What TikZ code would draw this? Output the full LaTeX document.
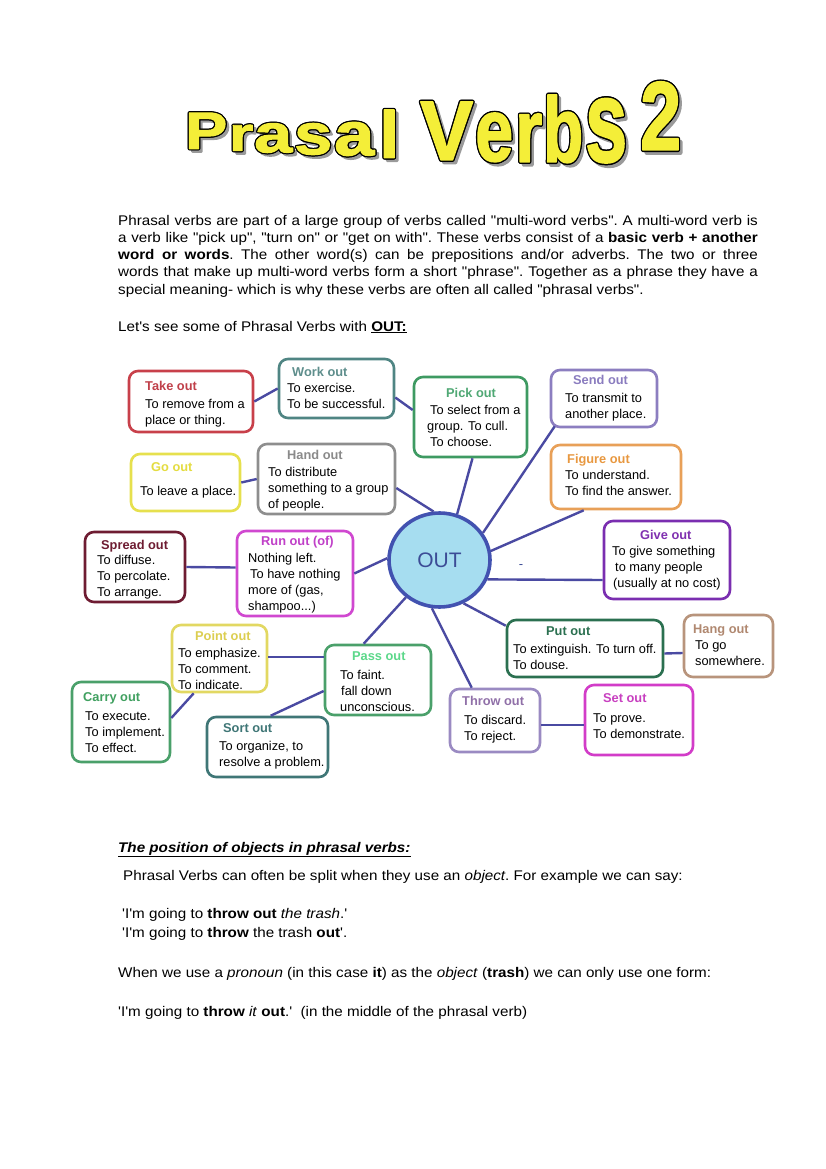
\documentclass[tikz,border=0pt]{standalone}
\usepackage{fontspec}
\setmainfont{Liberation Sans}
\usepackage{graphicx}
\usetikzlibrary{shapes.geometric,calc}
\definecolor{linkblue}{HTML}{4A4AA2}
\definecolor{cTake}{HTML}{C8404A}\definecolor{tTake}{HTML}{C0404A}
\definecolor{cWork}{HTML}{4F8583}\definecolor{tWork}{HTML}{5E8E8C}
\definecolor{cPick}{HTML}{3E9A62}\definecolor{tPick}{HTML}{4FA874}
\definecolor{cSend}{HTML}{8C7EC0}\definecolor{tSend}{HTML}{8A7CBF}
\definecolor{cFig}{HTML}{E8A058}\definecolor{tFig}{HTML}{E89840}
\definecolor{cGo}{HTML}{E6E04E}\definecolor{tGo}{HTML}{E4DC40}
\definecolor{cHand}{HTML}{8E8E8E}\definecolor{tHand}{HTML}{8A8A8A}
\definecolor{cSpread}{HTML}{6E1C32}\definecolor{tSpread}{HTML}{6E1C32}
\definecolor{cRun}{HTML}{D048D0}\definecolor{tRun}{HTML}{C040C8}
\definecolor{cGive}{HTML}{7A2EB0}\definecolor{tGive}{HTML}{8030B0}
\definecolor{cPoint}{HTML}{E2D862}\definecolor{tPoint}{HTML}{DCCE50}
\definecolor{cPass}{HTML}{4AA06A}\definecolor{tPass}{HTML}{5CD88A}
\definecolor{cCarry}{HTML}{4AA06A}\definecolor{tCarry}{HTML}{40A060}
\definecolor{cSort}{HTML}{3F7676}\definecolor{tSort}{HTML}{3F7676}
\definecolor{cPut}{HTML}{2B7050}\definecolor{tPut}{HTML}{2B7050}
\definecolor{cHang}{HTML}{B8947C}\definecolor{tHang}{HTML}{B08870}
\definecolor{cThrow}{HTML}{9A8AC2}\definecolor{tThrow}{HTML}{9070A8}
\definecolor{cSet}{HTML}{D23CC8}\definecolor{tSet}{HTML}{C840C0}
\definecolor{circFill}{HTML}{A6DDF0}
\definecolor{circBorder}{HTML}{4252B0}
\definecolor{circText}{HTML}{3C4C96}
\definecolor{tyellow}{HTML}{F4EE38}
\definecolor{tshadow}{HTML}{9A9A9A}
\newcommand\dq{\textquotedbl}
\newcommand\sq{\textquotesingle}
\newcommand\ttlfont{\fontsize{60}{60}\selectfont\bfseries}
\newcommand\wide[1]{\scalebox{1.086}[1]{#1}}
\newcommand\tletter[6]{%
  \node[inner sep=0pt,anchor=south west,text=tshadow] (#1s) at ({#3+3},{#6+3}) {\resizebox{\dimexpr#4pt-#3pt\relax}{\dimexpr#6pt-#5pt\relax}{\ttlfont\special{pdf:literal direct 2.4 w 1 j 2 Tr}#2\special{pdf:literal direct 0 Tr}}};
  \foreach \dx/\dy in {-1/0,1/0,0/-1,0/1,-0.7/-0.7,0.7/0.7,-0.7/0.7,0.7/-0.7}{%
    \node[inner sep=0pt,anchor=south west,text=black] at ({#3+(\dx)},{#6+(\dy)}) {\resizebox{\dimexpr#4pt-#3pt\relax}{\dimexpr#6pt-#5pt\relax}{\ttlfont\special{pdf:literal direct 1.6 w 1 j 2 Tr}#2\special{pdf:literal direct 0 Tr}}};}
  \node[inner sep=0pt,anchor=south west,text=tyellow] (#1) at (#3,#6) {\resizebox{\dimexpr#4pt-#3pt\relax}{\dimexpr#6pt-#5pt\relax}{\ttlfont\special{pdf:literal direct 1.1 w 1 j 2 Tr}#2\special{pdf:literal direct 0 Tr}}};
}
\newcommand\pvbox[6]{\node[bx=#2, minimum width={(#5)-(#3)}, minimum height={(#6)-(#4)}] (#1) at ({((#3)+(#5))/2},{((#4)+(#6))/2}) {};}
\tikzset{
  bx/.style={rectangle, draw=#1, line width=2.6pt, rounded corners=9pt, fill=white, inner sep=0pt},
  ttl/.style={text=#1, font=\fontsize{12.8}{16}\selectfont\bfseries, inner sep=0pt, anchor=base west},
  body/.style={font=\fontsize{12.8}{16}\selectfont, align=left, inner sep=0pt, anchor=north west},
  conn/.style={draw=linkblue, line width=2.4pt},
  para/.style={anchor=base west, inner sep=0pt, font=\fontsize{14}{17}\selectfont\frenchspacing},
}
\begin{document}
\begin{tikzpicture}[x=1pt,y=-1pt]
\useasboundingbox (0,0) rectangle (826,1169);
\fill[white] (0,0) rectangle (826,1169);

% ---- title
\tletter{l1}{P}{185}{227}{113}{149}
\tletter{l2}{r}{229}{253}{125}{151}
\tletter{l3}{a}{254}{292}{124}{153}
\tletter{l4}{s}{294}{332}{124}{155}
\tletter{l5}{a}{334}{374}{123}{156}
\tletter{l6}{l}{379}{399}{110}{158}
\tletter{l7}{V}{420}{473}{102}{160}
\tletter{l8}{e}{475}{513}{114}{162}
\tletter{l9}{r}{515}{542}{114}{162}
\tletter{l10}{b}{543}{583}{96}{163}
\tletter{l11}{s}{585}{627}{100}{163}
\tletter{l12}{2}{640}{681}{82}{150}

% ---- intro paragraph
\node[para] (p1) at (118,225) {\wide{\makebox[589pt][s]{Phrasal verbs are part of a large group of verbs called \dq{}multi-word verbs\dq{}. A multi-word verb is}}};
\node[para] (p2) at (118,242) {\wide{\makebox[589pt][s]{a verb like \dq{}pick up\dq{}, \dq{}turn on\dq{} or \dq{}get on with\dq{}. These verbs consist of a \textbf{basic verb + another}}}};
\node[para] (p3) at (118,259) {\wide{\makebox[589pt][s]{\textbf{word or words}. The other word(s) can be prepositions and/or adverbs. The two or three}}};
\node[para] (p4) at (118,276) {\wide{\makebox[589pt][s]{words that make up multi-word verbs form a short \dq{}phrase\dq{}. Together as a phrase they have a}}};
\node[para] (p5) at (118,294.5) {\wide{special meaning- which is why these verbs are often all called \dq{}phrasal verbs\dq{}.}};
\node[para] (p6) at (118,331) {\wide{Let\sq{}s see some of Phrasal Verbs with \textbf{\underline{OUT:}}}};

% ---- boxes
\pvbox{take}{cTake}{129}{371}{253}{432}
\pvbox{work}{cWork}{279}{359}{394}{418}
\pvbox{pick}{cPick}{414}{377}{527}{457}
\pvbox{send}{cSend}{551}{370}{657}{427}
\pvbox{figure}{cFig}{551}{445}{681}{509}
\pvbox{go}{cGo}{131}{454}{240}{511}
\pvbox{hand}{cHand}{258}{444}{395}{514}
\pvbox{spread}{cSpread}{85}{532}{185}{602}
\pvbox{run}{cRun}{237}{531}{353}{616}
\pvbox{give}{cGive}{604}{521}{730}{599}
\pvbox{point}{cPoint}{172}{625}{267}{692}
\pvbox{pass}{cPass}{325}{645}{431}{715}
\pvbox{carry}{cCarry}{72}{682}{170}{762}
\pvbox{sort}{cSort}{207}{717}{328}{777}
\pvbox{put}{cPut}{507}{620}{663}{677}
\pvbox{hang}{cHang}{684}{615}{773}{677}
\pvbox{throw}{cThrow}{450}{689}{540}{752}
\pvbox{set}{cSet}{585}{685}{693}{755}

\node[ellipse, draw=circBorder, line width=3.6pt, fill=circFill, minimum width=101pt, minimum height=94pt, inner sep=0pt, text=circText, font=\fontsize{21}{21}\selectfont] (out) at (439.5,560) {OUT};

% ---- connectors
\draw[conn] (take.east) -- (work.west);
\draw[conn] ([yshift=-9pt]work.east) -- ([yshift=7pt]pick.west);
\draw[conn] ([xshift=2pt]pick.south) -- (out.69);
\draw[conn] ([yshift=-9pt]hand.east) -- (out.97);
\draw[conn] ([xshift=5pt,yshift=2pt]send.south west) -- (out.32);
\draw[conn] ([xshift=34pt]figure.south west) -- (out.10);
\draw[conn] (go.east) -- (hand.west);
\draw[conn] (spread.east) -- ([yshift=6pt]run.west);
\draw[conn] (run.east) -- (out.178);
\draw[conn] (out.-22) -- ([yshift=-20pt]give.west);
\draw[conn] (out.-61) -- ([yshift=-7pt]put.north west);
\draw[conn] (out.-99) -- ([xshift=23pt]throw.north west);
\draw[conn] (out.-132) -- ([xshift=40pt]pass.north west);
\draw[conn] ([yshift=1.5pt]point.east) -- ([yshift=23pt]pass.west);
\draw[conn] ([yshift=-11pt]pass.west) -- ([xshift=65pt]sort.north west);
\draw[conn] ([xshift=23pt]point.south west) -- ([yshift=4pt]carry.east);
\draw[conn] ([yshift=-5pt]put.east) -- ([yshift=-7pt]hang.west);
\draw[conn] ([yshift=-4.5pt]throw.east) -- ([yshift=-5pt]set.west);

\node[inner sep=0pt, text=circText, font=\fontsize{13}{13}\selectfont] (dash) at (521,567) {-};

% ---- box texts
\node[ttl=tTake] (takeT) at (145,390.5) {Take out};
\node[body] (takeB) at (145,399) {To remove from a\\place or thing.};
\node[ttl=tWork] (workT) at (292,376.5) {Work out};
\node[body] (workB) at (287,383) {To exercise.\\To be successful.};
\node[ttl=tPick] (pickT) at (446,397.5) {Pick out};
\node[body] (pickB) at (427,405) {\hspace{3pt}To select from a\\group. To cull.\\\hspace{3pt}To choose.};
\node[ttl=tSend] (sendT) at (573,384.5) {Send out};
\node[body] (sendB) at (565,393) {To transmit to\\another place.};
\node[ttl=tFig] (figT) at (567,463.5) {Figure out};
\node[body] (figB) at (565,470) {To understand.\\To find the answer.};
\node[ttl=tGo] (goT) at (151,471.5) {Go out};
\node[body] (goB) at (140,486) {To leave a place.};
\node[ttl=tHand] (handT) at (287,459.5) {Hand out};
\node[body] (handB) at (268,467) {To distribute\\something to a group\\of people.};
\node[ttl=tSpread] (spreadT) at (101,549.5) {Spread out};
\node[body] (spreadB) at (97,555) {To diffuse.\\To percolate.\\To arrange.};
\node[ttl=tRun] (runT) at (261,545.5) {Run out (of)};
\node[body] (runB) at (248,553) {Nothing left.\\\hspace{2pt}To have nothing\\more of (gas,\\shampoo...)};
\node[ttl=tGive] (giveT) at (640,539.5) {Give out};
\node[body] (giveB) at (612,546) {To give something\\\hspace{3pt}to many people\\\hspace{1pt}(usually at no cost)};
\node[ttl=tPoint] (pointT) at (195,640.5) {Point out};
\node[body] (pointB) at (178,648) {To emphasize.\\To comment.\\To indicate.};
\node[ttl=tPass] (passT) at (352,660.5) {Pass out};
\node[body] (passB) at (340,670) {To faint.\\\hspace{1pt}fall down\\unconscious.};
\node[ttl=tCarry] (carryT) at (83,701.5) {Carry out};
\node[body] (carryB) at (85,711) {To execute.\\To implement.\\To effect.};
\node[ttl=tSort] (sortT) at (223,732.5) {Sort out};
\node[body] (sortB) at (219,741) {To organize, to\\resolve a problem.};
\node[ttl=tPut] (putT) at (546,635.5) {Put out};
\node[body] (putB) at (513,644) {To extinguish. To turn off.\\To douse.};
\node[ttl=tHang] (hangT) at (693,633.5) {Hang out};
\node[body] (hangB) at (695,640) {To go\\somewhere.};
\node[ttl=tThrow] (throwT) at (462,705.5) {Throw out};
\node[body] (throwB) at (464,715) {To discard.\\To reject.};
\node[ttl=tSet] (setT) at (603,702.5) {Set out};
\node[body] (setB) at (593,713) {To prove.\\To demonstrate.};

% ---- bottom section
\node[para] (b1) at (118,852) {\wide{\textbf{\textit{\underline{The position of objects in phrasal verbs:}}}}};
\node[para] (b2) at (123,880) {\wide{Phrasal Verbs can often be split when they use an \textit{object}. For example we can say:}};
\node[para] (b3) at (122,918) {\wide{\sq{}I\sq{}m going to \textbf{throw out} \textit{the trash}.\sq{}}};
\node[para] (b4) at (122,937) {\wide{\sq{}I\sq{}m going to \textbf{throw} the trash \textbf{out}\sq{}.}};
\node[para] (b5) at (118,977) {\wide{When we use a \textit{pronoun} (in this case \textbf{it}) as the \textit{object} (\textbf{trash}) we can only use one form:}};
\node[para] (b6) at (118,1016) {\wide{\sq{}I\sq{}m going to \textbf{throw} \textit{it} \textbf{out}.\sq{}\ \ (in the middle of the phrasal verb)}};
\end{tikzpicture}
\end{document}
